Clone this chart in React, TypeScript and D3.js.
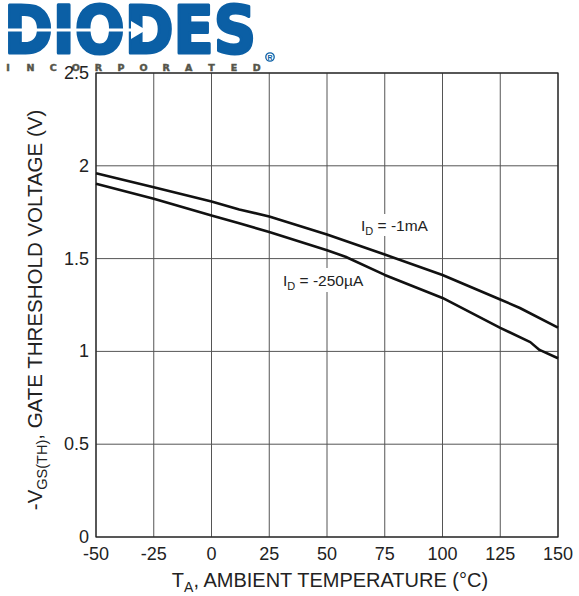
import React from "react";
import * as d3 from "d3";

const temps1 = [-50, -25, 0, 12, 25, 50, 75, 100, 125, 133.5, 150];
const vth1mA = [1.96, 1.885, 1.808, 1.765, 1.727, 1.63, 1.522, 1.412, 1.28, 1.234, 1.128];
const temps2 = [-50, -25, 0, 12, 25, 50, 58, 75, 100, 125, 138, 142, 150];
const vth250uA = [1.903, 1.822, 1.732, 1.69, 1.643, 1.545, 1.51, 1.412, 1.288, 1.127, 1.05, 1.008, 0.963];
const xTicks = [-50, -25, 0, 25, 50, 75, 100, 125, 150];
const yTicks = [0, 0.5, 1, 1.5, 2, 2.5];
const yTickLabels = ["0", "0.5", "1", "1.5", "2", "2.5"];
const incLetters = ["I", "N", "C", "O", "R", "P", "O", "R", "A", "T", "E", "D"];

const W = 579, H = 596;
const L = 96, R = 558, T = 73, B = 537;

export default function App() {
  const x = d3.scaleLinear().domain([-50, 150]).range([L, R]);
  const y = d3.scaleLinear().domain([0, 2.5]).range([B, T]);
  const line = d3.line<[number, number]>().x(d => x(d[0])).y(d => y(d[1])).curve(d3.curveLinear);
  const d1 = line(temps1.map((t, i) => [t, vth1mA[i]] as [number, number])) || "";
  const d2 = line(temps2.map((t, i) => [t, vth250uA[i]] as [number, number])) || "";
  const font = "'Liberation Sans', Arial, sans-serif";
  const blue = "#0b5fa5";
  return (
    <svg width={W} height={H} style={{ position: "absolute", left: 0, top: 0, background: "#fff" }} fontFamily={font}>
      {/* Logo */}
      <text x={4} y={53} fontSize={65} fontWeight="bold" fill={blue} stroke={blue} strokeWidth={3} strokeLinejoin="round" textLength={252} lengthAdjust="spacingAndGlyphs" fontFamily="'DejaVu Sans', sans-serif">DIODES</text>
      <rect x={0} y={28.5} width={134} height={3} fill="#fff" />
      <path d="M131,21 L146,30 L131,39 Z" fill="#fff" />
      <circle cx={270} cy={57} r={4.2} fill="none" stroke={blue} strokeWidth={1.3} />
      <text x={270} y={59.6} fontSize={7} fontWeight="bold" fill={blue} textAnchor="middle">R</text>
      {incLetters.map((c, i) => (
        <text key={i} x={8 + i * 22.6} y={71} fontSize={9.5} fontWeight="bold" fill="#55554a" stroke="#55554a" strokeWidth={0.5} textAnchor="middle" fontFamily="'DejaVu Sans', sans-serif">{c}</text>
      ))}
      {/* grid */}
      {xTicks.map(t => (
        <line key={"gx" + t} x1={x(t)} x2={x(t)} y1={T} y2={B} stroke="#555" strokeWidth={1} />
      ))}
      {yTicks.map(t => (
        <line key={"gy" + t} x1={L} x2={R} y1={y(t)} y2={y(t)} stroke="#555" strokeWidth={1} />
      ))}
      <rect x={L} y={T} width={R - L} height={B - T} fill="none" stroke="#222" strokeWidth={1.2} />
      {/* curves */}
      <path d={d1} fill="none" stroke="#111" strokeWidth={2.6} strokeLinejoin="round" />
      <path d={d2} fill="none" stroke="#111" strokeWidth={2.6} strokeLinejoin="round" />
      {/* curve labels */}
      <rect x={358} y={214} width={78} height={22} fill="#fff" />
      <text x={361} y={231} fontSize={15.5} fill="#222">I<tspan fontSize={11} dy={4}>D</tspan><tspan dy={-4}> = -1mA</tspan></text>
      <rect x={280} y={268} width={86} height={24} fill="#fff" />
      <text x={283} y={286} fontSize={15.5} fill="#222">I<tspan fontSize={11} dy={4}>D</tspan><tspan dy={-4}> = -250µA</tspan></text>
      {/* y ticks */}
      {yTicks.map((t, i) => (
        <text key={"ty" + t} x={89} y={y(t) + 6} fontSize={18} textAnchor="end" fill="#222">{yTickLabels[i]}</text>
      ))}
      {xTicks.map(t => (
        <text key={"tx" + t} x={x(t)} y={560} fontSize={18} textAnchor="middle" fill="#222">{t}</text>
      ))}
      {/* axis titles */}
      <text x={330} y={587} fontSize={20} textAnchor="middle" fill="#222">T<tspan fontSize={14} dy={5}>A</tspan><tspan dy={-5}>, AMBIENT TEMPERATURE (°C)</tspan></text>
      <text transform="translate(42,310) rotate(-90)" fontSize={20.5} textAnchor="middle" fill="#222">-V<tspan fontSize={14.5} dy={5}>GS(TH)</tspan><tspan dy={-5}>, GATE THRESHOLD VOLTAGE (V)</tspan></text>
    </svg>
  );
}
